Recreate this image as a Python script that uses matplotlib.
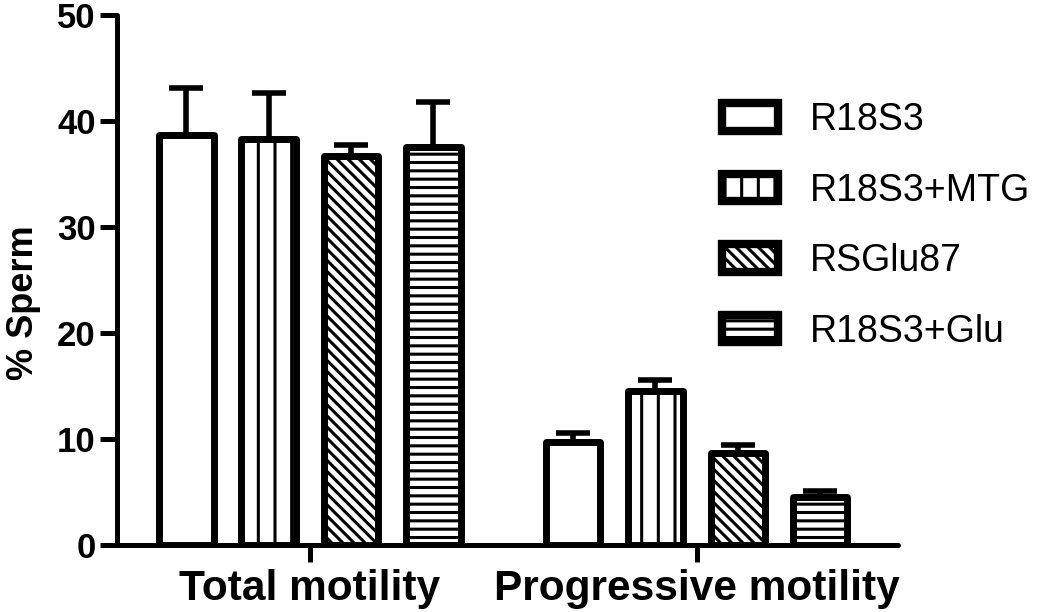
import matplotlib
matplotlib.use("Agg")
import matplotlib.pyplot as plt
import numpy as np

groups = ["Total motility", "Progressive motility"]
series = ["R18S3", "R18S3+MTG", "RSGlu87", "R18S3+Glu"]
means = {
    "R18S3":     [38.7, 9.7],
    "R18S3+MTG": [38.3, 14.6],
    "RSGlu87":   [36.7, 8.7],
    "R18S3+Glu": [37.6, 4.6],
}
errs = {
    "R18S3":     [4.4, 0.9],
    "R18S3+MTG": [4.4, 1.0],
    "RSGlu87":   [1.1, 0.8],
    "R18S3+Glu": [4.2, 0.5],
}
hatches = ["", "|", "\\\\\\", "--"]
yticks = [0, 10, 20, 30, 40, 50]

plt.rcParams['font.family'] = ['Liberation Sans', 'DejaVu Sans']
plt.rcParams['hatch.linewidth'] = 2.2

fig = plt.figure(figsize=(10.5, 6.12), dpi=100)
ax = fig.add_axes([0.111, 0.109, 0.744, 0.866])

pitch = 0.213
width = 0.141
x = np.arange(len(groups))
for i, s in enumerate(series):
    pos = x + (i - 1.5) * pitch
    ax.bar(pos, means[s], width, color="white", edgecolor="black",
           linewidth=5, hatch=hatches[i], label=s, zorder=3,
           joinstyle='round')
    lower = np.zeros(len(groups))
    ax.errorbar(pos, means[s], yerr=[lower, errs[s]], fmt='none',
                ecolor="black", elinewidth=4, capsize=12.5, capthick=4,
                zorder=2)

ax.set_ylim(0, 50)
ax.set_xlim(-0.5, 1.52)
ax.set_yticks(yticks)
ax.set_xticks(x)
ax.set_xticklabels(groups, fontsize=30.5, fontweight='bold')
ax.set_yticklabels([str(t) for t in yticks], fontsize=25, fontweight='bold')
ax.set_ylabel("% Sperm", fontsize=26, fontweight='bold')
ax.yaxis.set_label_coords(-0.097, 0.458)

for side in ["top", "right"]:
    ax.spines[side].set_visible(False)
for side in ["left", "bottom"]:
    ax.spines[side].set_linewidth(3.6)
    ax.spines[side].set_capstyle('round')
ax.tick_params(axis='both', width=3.6, length=12, pad=3)
ax.tick_params(axis='x', pad=5)

leg = ax.legend(loc='upper left', bbox_to_anchor=(0.688, 0.833),
                bbox_transform=fig.transFigure,
                frameon=False, fontsize=27, handlelength=1.47,
                handleheight=0.75, labelspacing=0.92, handletextpad=0.87,
                borderpad=0, borderaxespad=0)
for h in leg.legend_handles:
    h.set_linewidth(6)

fig.savefig("out.png", dpi=100)
